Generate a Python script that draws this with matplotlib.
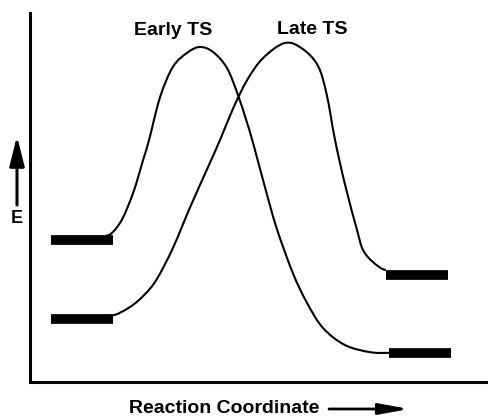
import matplotlib.pyplot as plt
import numpy as np
from matplotlib.path import Path
from matplotlib.patches import PathPatch

plt.rcParams['font.family'] = ['Liberation Sans', 'DejaVu Sans']

# levels: (x start, x end, energy)
reactant_early = (4.6, 18.1, 38.6)
reactant_late = (4.6, 18.1, 17.1)
product_late = (77.7, 91.3, 29.1)
product_early = (78.4, 91.9, 7.9)

# traced curve points (reaction coordinate, energy)
early_x = [16.5, 19.65, 22.5, 24.7, 26.0, 28.4, 31.2, 34.3, 37.1, 40.0, 43.0,
           45.4, 47.2, 48.7, 51.3, 53.9, 57.4, 60.5, 64.0, 68.8, 74.2, 78.4]
early_e = [39.6, 43.1, 51.2, 60.2, 65.6, 77.2, 85.4, 89.2, 90.8, 89.4, 85.1,
           77.8, 71.0, 64.8, 52.8, 41.5, 29.5, 21.4, 14.6, 10.0, 8.1, 7.9]

late_x = [17.5, 21.8, 25.1, 27.7, 31.2, 34.9, 38.6, 41.5, 44.3, 47.4, 50.9,
          55.7, 59.6, 62.9, 64.8, 66.6, 68.8, 71.4, 72.7, 74.9, 77.7]
late_e = [18.0, 20.3, 23.8, 27.9, 36.3, 47.2, 57.5, 65.6, 74.0, 81.8, 87.8,
          91.9, 90.2, 85.6, 77.8, 65.6, 53.4, 41.2, 35.8, 32.5, 30.4]

labels = ["Early TS", "Late TS"]
label_x = [31.3, 61.7]
label_e = [94.0, 94.3]


def smooth_path(xs, ys):
    # cubic Bezier segments through the traced points (Catmull-Rom tangents)
    p = np.column_stack([xs, ys])
    t = np.empty_like(p)
    t[1:-1] = (p[2:] - p[:-2]) / 2
    t[0] = [p[1, 0] - p[0, 0], 0]
    t[-1] = [p[-1, 0] - p[-2, 0], 0]
    verts = [p[0]]
    codes = [Path.MOVETO]
    for i in range(len(p) - 1):
        verts += [p[i] + t[i] / 3, p[i + 1] - t[i + 1] / 3, p[i + 1]]
        codes += [Path.CURVE4] * 3
    return Path(verts, codes)


fig = plt.figure(figsize=(4.89, 4.17), dpi=100)
ax = fig.add_axes([30 / 489, 35 / 417, 458 / 489, 369 / 417])
ax.set_xlim(0, 100)
ax.set_ylim(0, 100)

for xs, es in ((early_x, early_e), (late_x, late_e)):
    ax.add_patch(PathPatch(smooth_path(xs, es), facecolor="none",
                           edgecolor="black", linewidth=1.5))

for x0, x1, e in (reactant_early, reactant_late, product_late, product_early):
    ax.hlines(e, x0, x1, color="black", linewidth=7)

for lab, x, e in zip(labels, label_x, label_e):
    ax.text(x, e, lab, ha="center", va="baseline", fontsize=14,
            fontweight="bold")

for side in ("top", "right"):
    ax.spines[side].set_visible(False)
for side in ("left", "bottom"):
    ax.spines[side].set_linewidth(2.2)
ax.set_xticks([])
ax.set_yticks([])

# axis labels with arrows
fig.text(17 / 489, 1 - 219 / 417, "E", ha="center", va="center",
         fontsize=13, fontweight="bold")
ax.annotate("", xy=(17 / 489, 1 - 136 / 417), xytext=(17 / 489, 1 - 205 / 417),
            xycoords="figure fraction", textcoords="figure fraction",
            arrowprops=dict(arrowstyle="-|>,head_length=1.8,head_width=0.45",
                            color="black", lw=2.2, mutation_scale=10,
                            shrinkA=0, shrinkB=0))

fig.text(224 / 489, 1 - 413 / 417, "Reaction Coordinate", ha="center",
         va="baseline", fontsize=14, fontweight="bold")
ax.annotate("", xy=(409 / 489, 1 - 409 / 417), xytext=(329 / 489, 1 - 409 / 417),
            xycoords="figure fraction", textcoords="figure fraction",
            arrowprops=dict(arrowstyle="-|>,head_length=1.8,head_width=0.33",
                            color="black", lw=2, mutation_scale=10,
                            shrinkA=0, shrinkB=0))

fig.savefig("out.png", dpi=100)
